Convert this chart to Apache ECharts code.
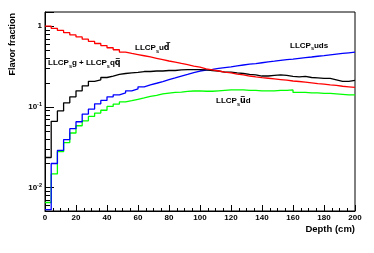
<!DOCTYPE html>
<html><head><meta charset="utf-8">
<script src="https://cdn.jsdelivr.net/npm/echarts@6/dist/echarts.min.js"></script>
<style>html,body{margin:0;padding:0;background:#fff}#c{width:374px;height:253px}</style>
</head><body><div id="c"></div>
<script>
// bin edges (cm), 4 cm bins
const binEdges = [0,4,8,12,16,20,24,28,32,36,40,44,48,52,56,60,64,68,72,76,80,84,88,92,96,100,104,108,112,116,120,124,128,132,136,140,144,148,152,156,160,164,168,172,176,180,184,188,192,196,200];
// LLCP_s u dbar (red)
const redVals = [1.00,0.94,0.885,0.83,0.78,0.735,0.69,0.65,0.61,0.575,0.54,0.51,0.477,0.46,0.445,0.43,0.415,0.40,0.385,0.37,0.358,0.345,0.333,0.32,0.31,0.295,0.287,0.278,0.27,0.263,0.255,0.249,0.241,0.235,0.23,0.226,0.222,0.218,0.214,0.209,0.206,0.202,0.198,0.194,0.191,0.187,0.184,0.18,0.177,0.174];
// LLCP_s g + LLCP_s q qbar (black)
const blackVals = [0.0235,0.066,0.089,0.112,0.133,0.158,0.182,0.207,0.216,0.231,0.241,0.252,0.259,0.263,0.267,0.274,0.274,0.278,0.278,0.282,0.282,0.287,0.29,0.29,0.29,0.287,0.282,0.278,0.27,0.27,0.263,0.259,0.252,0.249,0.241,0.241,0.245,0.249,0.245,0.238,0.235,0.238,0.231,0.228,0.225,0.225,0.216,0.207,0.207,0.213];
// LLCP_s uds (blue)
const blueVals = [0.0053,0.0198,0.0288,0.0392,0.0535,0.0653,0.0813,0.0937,0.109,0.12,0.133,0.141,0.149,0.158,0.167,0.177,0.187,0.196,0.206,0.217,0.228,0.24,0.252,0.265,0.278,0.286,0.292,0.299,0.306,0.313,0.322,0.33,0.338,0.344,0.352,0.36,0.368,0.377,0.384,0.391,0.399,0.407,0.415,0.424,0.432,0.441,0.45,0.459,0.468,0.477];
// LLCP_s ubar d (green)
const greenVals = [0.0065,0.0147,0.0278,0.036,0.0473,0.0582,0.0671,0.0759,0.0836,0.0906,0.101,0.108,0.115,0.119,0.124,0.129,0.135,0.139,0.145,0.148,0.151,0.152,0.155,0.157,0.158,0.156,0.156,0.158,0.16,0.162,0.162,0.162,0.16,0.16,0.158,0.158,0.158,0.16,0.16,0.162,0.151,0.151,0.149,0.149,0.147,0.147,0.145,0.143,0.141,0.141];
// y minor tick values
const yMinorTicks = [0.006,0.007,0.008,0.009,0.02,0.03,0.04,0.05,0.06,0.07,0.08,0.09,0.2,0.3,0.4,0.5,0.6,0.7,0.8,0.9];

const FONT = "'Liberation Sans', Arial, Helvetica, sans-serif";
const chart = echarts.init(document.getElementById('c'));

function stepData(vals){ return binEdges.map((e,i)=>[e, vals[Math.min(i, vals.length-1)]]); }
function mkSeries(vals, color){
  return {type:'line', step:'end', data:stepData(vals), symbol:'none', animation:false,
    lineStyle:{color:color, width:1.3}, z:3};
}
const richLbl = {
  a:{fontSize:8, fontWeight:'bold', fontFamily:FONT, lineHeight:12, verticalAlign:'middle', fill:'#000', color:'#000'},
  s:{fontSize:5.5, fontWeight:'bold', fontFamily:FONT, lineHeight:12, verticalAlign:'bottom', color:'#000', padding:[3,0,0,0]},
  o:{fontSize:8, fontWeight:'bold', fontFamily:"'DejaVu Sans', sans-serif", lineHeight:12, verticalAlign:'middle', color:'#000'}
};
function textEl(x, y, text){
  return {type:'text', x:x, y:y, z:10, style:{text:text, rich:richLbl, align:'left', verticalAlign:'middle', fill:'#000'}};
}

chart.setOption({
  animation:false,
  grid:{left:45, right:19, top:12, bottom:42, show:true, borderColor:'#000', borderWidth:1},
  xAxis:{type:'value', min:0, max:200, interval:20,
    axisLine:{lineStyle:{color:'#000', width:1}},
    axisTick:{inside:true, length:6, lineStyle:{color:'#000'}},
    minorTick:{show:true, splitNumber:4, length:3, lineStyle:{color:'#000'}},
    splitLine:{show:false},
    axisLabel:{fontSize:8, fontWeight:'bold', fontFamily:FONT, color:'#000', margin:3}
  },
  yAxis:{type:'log', logBase:10, min:0.0051, max:1.5,
    axisLine:{show:true, lineStyle:{color:'#000', width:1}},
    axisTick:{inside:true, length:9, lineStyle:{color:'#000'}},
    splitLine:{show:false},
    axisLabel:{margin:3, color:'#000',
      formatter:function(v){
        const l = Math.log10(v), r = Math.round(l);
        if (Math.abs(l-r) > 1e-6) return '';
        if (r === 0) return '{b|1}';
        return '{b|10}{p|' + r + '}';
      },
      rich:{
        b:{fontSize:8, fontWeight:'bold', fontFamily:FONT, color:'#000', lineHeight:10},
        p:{fontSize:5.5, fontWeight:'bold', fontFamily:FONT, color:'#000', verticalAlign:'top', lineHeight:10, padding:[0,0,4,0]}
      }
    }
  },
  series:[
    mkSeries(greenVals, '#00ff00'),
    mkSeries(blueVals, '#0000ff'),
    mkSeries(blackVals, '#000000'),
    mkSeries(redVals, '#ff0000')
  ]
});

const x0 = chart.convertToPixel({xAxisIndex:0}, 0);
const gfx = yMinorTicks.map(v => {
  const py = Math.round(chart.convertToPixel({yAxisIndex:0}, v)) + 0.5;
  return {type:'line', z:5, shape:{x1:x0, y1:py, x2:x0+5, y2:py}, style:{stroke:'#000', lineWidth:1}};
});
gfx.push(textEl(135, 48, '{a|LLCP}{s|s}{a|u}{o|d\u0305}'));
gfx.push(textEl(48, 63, '{a|LLCP}{s|s}{a|g + LLCP}{s|s}{a|q}{o|q\u0305}'));
gfx.push(textEl(290, 45.5, '{a|LLCP}{s|s}{a|uds}'));
gfx.push(textEl(216, 101, '{a|LLCP}{s|s}{o|u\u0305}{a|d}'));
gfx.push({type:'text', x:13, y:13, rotation:Math.PI/2, z:10,
  style:{text:'Flavor fraction', align:'right', verticalAlign:'middle', font:"bold 9px " + FONT, fill:'#000'}});
gfx.push({type:'text', x:355, y:229, z:10,
  style:{text:'Depth (cm)', align:'right', verticalAlign:'middle', font:"bold 9.5px " + FONT, fill:'#000'}});
chart.setOption({graphic:gfx});
</script></body></html>
